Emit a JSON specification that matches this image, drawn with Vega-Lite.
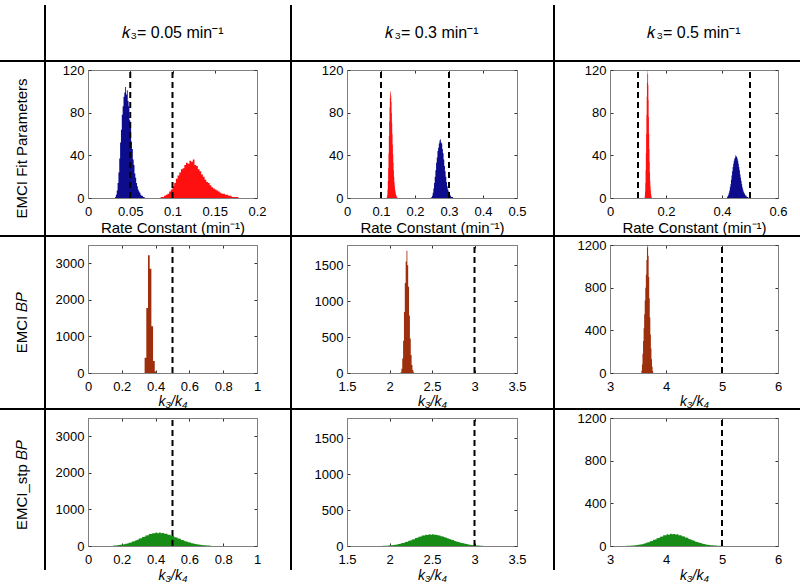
{
"$schema": "https://vega.github.io/schema/vega-lite/v6.json",
"padding": {"top": 5, "left": 0, "right": 0, "bottom": 0},
"background": "white",
"datasets": {
"a1": [
{"s":"k3","x":0.032,"n":1},{"s":"k3","x":0.033,"n":3},{"s":"k3","x":0.034,"n":7},{"s":"k3","x":0.035,"n":14},{"s":"k3","x":0.036,"n":24},{"s":"k3","x":0.037,"n":37},{"s":"k3","x":0.038,"n":52},{"s":"k3","x":0.039,"n":64},{"s":"k3","x":0.040,"n":78},{"s":"k3","x":0.041,"n":86},{"s":"k3","x":0.042,"n":95},{"s":"k3","x":0.043,"n":99},{"s":"k3","x":0.044,"n":104},{"s":"k3","x":0.045,"n":97},{"s":"k3","x":0.046,"n":101},{"s":"k3","x":0.047,"n":91},{"s":"k3","x":0.048,"n":86},{"s":"k3","x":0.049,"n":73},{"s":"k3","x":0.050,"n":66},{"s":"k3","x":0.051,"n":53},{"s":"k3","x":0.052,"n":46},{"s":"k3","x":0.053,"n":36},{"s":"k3","x":0.054,"n":31},{"s":"k3","x":0.055,"n":23},{"s":"k3","x":0.056,"n":19},{"s":"k3","x":0.057,"n":14},{"s":"k3","x":0.058,"n":11},{"s":"k3","x":0.059,"n":8},{"s":"k3","x":0.060,"n":6},{"s":"k3","x":0.061,"n":5},{"s":"k3","x":0.062,"n":3},{"s":"k3","x":0.063,"n":2},{"s":"k3","x":0.064,"n":2},{"s":"k3","x":0.065,"n":1},{"s":"k3","x":0.066,"n":1},{"s":"k3","x":0.067,"n":0},
{"s":"k4","x":0.086,"n":1},{"s":"k4","x":0.088,"n":1},{"s":"k4","x":0.090,"n":2},{"s":"k4","x":0.092,"n":3},{"s":"k4","x":0.094,"n":4},{"s":"k4","x":0.096,"n":6},{"s":"k4","x":0.098,"n":8},{"s":"k4","x":0.100,"n":11},{"s":"k4","x":0.102,"n":14},{"s":"k4","x":0.104,"n":18},{"s":"k4","x":0.106,"n":21},{"s":"k4","x":0.108,"n":24},{"s":"k4","x":0.110,"n":27},{"s":"k4","x":0.112,"n":28},{"s":"k4","x":0.114,"n":31},{"s":"k4","x":0.116,"n":33},{"s":"k4","x":0.118,"n":32},{"s":"k4","x":0.120,"n":35},{"s":"k4","x":0.122,"n":34},{"s":"k4","x":0.124,"n":36},{"s":"k4","x":0.126,"n":31},{"s":"k4","x":0.128,"n":30},{"s":"k4","x":0.130,"n":27},{"s":"k4","x":0.132,"n":25},{"s":"k4","x":0.134,"n":22},{"s":"k4","x":0.136,"n":20},{"s":"k4","x":0.138,"n":17},{"s":"k4","x":0.140,"n":15},{"s":"k4","x":0.142,"n":14},{"s":"k4","x":0.144,"n":12},{"s":"k4","x":0.146,"n":10},{"s":"k4","x":0.148,"n":9},{"s":"k4","x":0.150,"n":8},{"s":"k4","x":0.152,"n":7},{"s":"k4","x":0.154,"n":6},{"s":"k4","x":0.156,"n":5},{"s":"k4","x":0.158,"n":4},{"s":"k4","x":0.160,"n":4},{"s":"k4","x":0.162,"n":3},{"s":"k4","x":0.164,"n":3},{"s":"k4","x":0.166,"n":2},{"s":"k4","x":0.168,"n":2},{"s":"k4","x":0.170,"n":1},{"s":"k4","x":0.172,"n":1},{"s":"k4","x":0.174,"n":1},{"s":"k4","x":0.176,"n":1},{"s":"k4","x":0.178,"n":0}
],
"a2": [
{"s":"k4","x":0.117,"n":1},{"s":"k4","x":0.118,"n":3},{"s":"k4","x":0.119,"n":8},{"s":"k4","x":0.120,"n":16},{"s":"k4","x":0.121,"n":28},{"s":"k4","x":0.122,"n":42},{"s":"k4","x":0.123,"n":58},{"s":"k4","x":0.124,"n":72},{"s":"k4","x":0.125,"n":85},{"s":"k4","x":0.126,"n":94},{"s":"k4","x":0.127,"n":99},{"s":"k4","x":0.128,"n":100},{"s":"k4","x":0.129,"n":96},{"s":"k4","x":0.130,"n":90},{"s":"k4","x":0.131,"n":80},{"s":"k4","x":0.132,"n":70},{"s":"k4","x":0.133,"n":60},{"s":"k4","x":0.134,"n":50},{"s":"k4","x":0.135,"n":41},{"s":"k4","x":0.136,"n":33},{"s":"k4","x":0.137,"n":26},{"s":"k4","x":0.138,"n":20},{"s":"k4","x":0.139,"n":15},{"s":"k4","x":0.140,"n":11},{"s":"k4","x":0.141,"n":8},{"s":"k4","x":0.142,"n":6},{"s":"k4","x":0.143,"n":4},{"s":"k4","x":0.144,"n":3},{"s":"k4","x":0.145,"n":2},{"s":"k4","x":0.146,"n":1},{"s":"k4","x":0.147,"n":1},{"s":"k4","x":0.148,"n":0},
{"s":"k3","x":0.248,"n":1},{"s":"k3","x":0.250,"n":2},{"s":"k3","x":0.252,"n":5},{"s":"k3","x":0.254,"n":9},{"s":"k3","x":0.256,"n":14},{"s":"k3","x":0.258,"n":20},{"s":"k3","x":0.260,"n":26},{"s":"k3","x":0.262,"n":33},{"s":"k3","x":0.264,"n":38},{"s":"k3","x":0.266,"n":44},{"s":"k3","x":0.268,"n":47},{"s":"k3","x":0.270,"n":51},{"s":"k3","x":0.272,"n":54},{"s":"k3","x":0.274,"n":55},{"s":"k3","x":0.276,"n":52},{"s":"k3","x":0.278,"n":51},{"s":"k3","x":0.280,"n":46},{"s":"k3","x":0.282,"n":42},{"s":"k3","x":0.284,"n":36},{"s":"k3","x":0.286,"n":30},{"s":"k3","x":0.288,"n":25},{"s":"k3","x":0.290,"n":20},{"s":"k3","x":0.292,"n":15},{"s":"k3","x":0.294,"n":11},{"s":"k3","x":0.296,"n":8},{"s":"k3","x":0.298,"n":6},{"s":"k3","x":0.300,"n":4},{"s":"k3","x":0.302,"n":3},{"s":"k3","x":0.304,"n":2},{"s":"k3","x":0.306,"n":1},{"s":"k3","x":0.308,"n":1},{"s":"k3","x":0.310,"n":1},{"s":"k3","x":0.312,"n":0}
],
"a3": [
{"s":"k4","x":0.124,"n":2},{"s":"k4","x":0.125,"n":6},{"s":"k4","x":0.126,"n":14},{"s":"k4","x":0.127,"n":26},{"s":"k4","x":0.128,"n":42},{"s":"k4","x":0.129,"n":60},{"s":"k4","x":0.130,"n":78},{"s":"k4","x":0.131,"n":95},{"s":"k4","x":0.132,"n":108},{"s":"k4","x":0.133,"n":117},{"s":"k4","x":0.134,"n":120},{"s":"k4","x":0.135,"n":116},{"s":"k4","x":0.136,"n":106},{"s":"k4","x":0.137,"n":92},{"s":"k4","x":0.138,"n":76},{"s":"k4","x":0.139,"n":60},{"s":"k4","x":0.140,"n":46},{"s":"k4","x":0.141,"n":34},{"s":"k4","x":0.142,"n":24},{"s":"k4","x":0.143,"n":16},{"s":"k4","x":0.144,"n":11},{"s":"k4","x":0.145,"n":7},{"s":"k4","x":0.146,"n":4},{"s":"k4","x":0.147,"n":2},{"s":"k4","x":0.148,"n":1},{"s":"k4","x":0.149,"n":0},
{"s":"k3","x":0.418,"n":1},{"s":"k3","x":0.420,"n":2},{"s":"k3","x":0.422,"n":3},{"s":"k3","x":0.424,"n":5},{"s":"k3","x":0.426,"n":7},{"s":"k3","x":0.428,"n":10},{"s":"k3","x":0.430,"n":13},{"s":"k3","x":0.432,"n":17},{"s":"k3","x":0.434,"n":21},{"s":"k3","x":0.436,"n":25},{"s":"k3","x":0.438,"n":29},{"s":"k3","x":0.440,"n":32},{"s":"k3","x":0.442,"n":35},{"s":"k3","x":0.444,"n":37},{"s":"k3","x":0.446,"n":38},{"s":"k3","x":0.448,"n":40},{"s":"k3","x":0.450,"n":39},{"s":"k3","x":0.452,"n":39},{"s":"k3","x":0.454,"n":37},{"s":"k3","x":0.456,"n":35},{"s":"k3","x":0.458,"n":32},{"s":"k3","x":0.460,"n":29},{"s":"k3","x":0.462,"n":26},{"s":"k3","x":0.464,"n":22},{"s":"k3","x":0.466,"n":19},{"s":"k3","x":0.468,"n":16},{"s":"k3","x":0.470,"n":13},{"s":"k3","x":0.472,"n":10},{"s":"k3","x":0.474,"n":8},{"s":"k3","x":0.476,"n":6},{"s":"k3","x":0.478,"n":5},{"s":"k3","x":0.480,"n":4},{"s":"k3","x":0.482,"n":3},{"s":"k3","x":0.484,"n":2},{"s":"k3","x":0.486,"n":2},{"s":"k3","x":0.488,"n":1},{"s":"k3","x":0.490,"n":1},{"s":"k3","x":0.492,"n":1},{"s":"k3","x":0.494,"n":0}
],
"b1": [
{"x":0.335,"n":420},{"x":0.345,"n":1780},{"x":0.355,"n":3220},{"x":0.365,"n":2850},{"x":0.375,"n":1280},{"x":0.385,"n":330},{"x":0.395,"n":40},{"x":0.405,"n":0}
],
"b2": [
{"x":2.13,"n":10},{"x":2.14,"n":60},{"x":2.15,"n":200},{"x":2.16,"n":450},{"x":2.17,"n":850},{"x":2.18,"n":1250},{"x":2.19,"n":1550},{"x":2.20,"n":1700},{"x":2.21,"n":1500},{"x":2.22,"n":1200},{"x":2.23,"n":800},{"x":2.24,"n":480},{"x":2.25,"n":250},{"x":2.26,"n":110},{"x":2.27,"n":40},{"x":2.28,"n":10},{"x":2.29,"n":0}
],
"b3": [
{"x":3.56,"n":20},{"x":3.57,"n":80},{"x":3.58,"n":180},{"x":3.59,"n":300},{"x":3.60,"n":420},{"x":3.61,"n":550},{"x":3.62,"n":680},{"x":3.63,"n":800},{"x":3.64,"n":920},{"x":3.65,"n":1060},{"x":3.66,"n":1180},{"x":3.67,"n":1200},{"x":3.68,"n":1100},{"x":3.69,"n":900},{"x":3.70,"n":700},{"x":3.71,"n":520},{"x":3.72,"n":360},{"x":3.73,"n":230},{"x":3.74,"n":130},{"x":3.75,"n":60},{"x":3.76,"n":20},{"x":3.77,"n":0}
],
"c1": [
{"x":0.15,"n":12},{"x":0.16,"n":17},{"x":0.17,"n":19},{"x":0.18,"n":27},{"x":0.19,"n":31},{"x":0.20,"n":42},{"x":0.21,"n":48},{"x":0.22,"n":61},{"x":0.23,"n":69},{"x":0.24,"n":88},{"x":0.25,"n":97},{"x":0.26,"n":120},{"x":0.27,"n":131},{"x":0.28,"n":159},{"x":0.29,"n":171},{"x":0.30,"n":202},{"x":0.31,"n":213},{"x":0.32,"n":246},{"x":0.33,"n":255},{"x":0.34,"n":288},{"x":0.35,"n":295},{"x":0.36,"n":325},{"x":0.37,"n":326},{"x":0.38,"n":350},{"x":0.39,"n":346},{"x":0.40,"n":368},{"x":0.41,"n":352},{"x":0.42,"n":366},{"x":0.43,"n":349},{"x":0.44,"n":356},{"x":0.45,"n":332},{"x":0.46,"n":336},{"x":0.47,"n":307},{"x":0.48,"n":306},{"x":0.49,"n":276},{"x":0.50,"n":271},{"x":0.51,"n":241},{"x":0.52,"n":233},{"x":0.53,"n":204},{"x":0.54,"n":195},{"x":0.55,"n":167},{"x":0.56,"n":158},{"x":0.57,"n":133},{"x":0.58,"n":124},{"x":0.59,"n":103},{"x":0.60,"n":94},{"x":0.61,"n":77},{"x":0.62,"n":70},{"x":0.63,"n":56},{"x":0.64,"n":50},{"x":0.65,"n":40},{"x":0.66,"n":35},{"x":0.67,"n":27},{"x":0.68,"n":23},{"x":0.69,"n":18},{"x":0.70,"n":15},{"x":0.71,"n":11},{"x":0.72,"n":9},{"x":0.73,"n":0}
],
"c2": [
{"x":1.92,"n":3},{"x":1.94,"n":4},{"x":1.96,"n":5},{"x":1.98,"n":7},{"x":2.00,"n":9},{"x":2.02,"n":12},{"x":2.04,"n":14},{"x":2.06,"n":19},{"x":2.08,"n":21},{"x":2.10,"n":27},{"x":2.12,"n":31},{"x":2.14,"n":40},{"x":2.16,"n":43},{"x":2.18,"n":54},{"x":2.20,"n":58},{"x":2.22,"n":72},{"x":2.24,"n":76},{"x":2.26,"n":90},{"x":2.28,"n":95},{"x":2.30,"n":110},{"x":2.32,"n":114},{"x":2.34,"n":129},{"x":2.36,"n":131},{"x":2.38,"n":145},{"x":2.40,"n":146},{"x":2.42,"n":157},{"x":2.44,"n":154},{"x":2.46,"n":163},{"x":2.48,"n":158},{"x":2.50,"n":164},{"x":2.52,"n":155},{"x":2.54,"n":157},{"x":2.56,"n":148},{"x":2.58,"n":147},{"x":2.60,"n":136},{"x":2.62,"n":133},{"x":2.64,"n":121},{"x":2.66,"n":116},{"x":2.68,"n":104},{"x":2.70,"n":99},{"x":2.72,"n":86},{"x":2.74,"n":82},{"x":2.76,"n":69},{"x":2.78,"n":64},{"x":2.80,"n":55},{"x":2.82,"n":49},{"x":2.84,"n":41},{"x":2.86,"n":37},{"x":2.88,"n":30},{"x":2.90,"n":27},{"x":2.92,"n":21},{"x":2.94,"n":19},{"x":2.96,"n":14},{"x":2.98,"n":12},{"x":3.00,"n":10},{"x":3.02,"n":8},{"x":3.04,"n":6},{"x":3.06,"n":5},{"x":3.08,"n":4},{"x":3.10,"n":0}
],
"c3": [
{"x":3.29,"n":2},{"x":3.32,"n":2},{"x":3.35,"n":3},{"x":3.38,"n":4},{"x":3.41,"n":5},{"x":3.44,"n":7},{"x":3.47,"n":9},{"x":3.50,"n":11},{"x":3.53,"n":15},{"x":3.56,"n":16},{"x":3.59,"n":22},{"x":3.62,"n":25},{"x":3.65,"n":32},{"x":3.68,"n":35},{"x":3.71,"n":44},{"x":3.74,"n":47},{"x":3.77,"n":58},{"x":3.80,"n":61},{"x":3.83,"n":72},{"x":3.86,"n":76},{"x":3.89,"n":87},{"x":3.92,"n":89},{"x":3.95,"n":100},{"x":3.98,"n":100},{"x":4.01,"n":109},{"x":4.04,"n":106},{"x":4.07,"n":114},{"x":4.10,"n":110},{"x":4.13,"n":113},{"x":4.16,"n":108},{"x":4.19,"n":109},{"x":4.22,"n":101},{"x":4.25,"n":101},{"x":4.28,"n":92},{"x":4.31,"n":90},{"x":4.34,"n":79},{"x":4.37,"n":77},{"x":4.40,"n":66},{"x":4.43,"n":62},{"x":4.46,"n":53},{"x":4.49,"n":49},{"x":4.52,"n":41},{"x":4.55,"n":37},{"x":4.58,"n":30},{"x":4.61,"n":27},{"x":4.64,"n":21},{"x":4.67,"n":19},{"x":4.70,"n":14},{"x":4.73,"n":12},{"x":4.76,"n":10},{"x":4.79,"n":8},{"x":4.82,"n":6},{"x":4.85,"n":5},{"x":4.88,"n":4},{"x":4.91,"n":3},{"x":4.94,"n":2},{"x":4.97,"n":2},{"x":5.00,"n":1},{"x":5.03,"n":0}
]
},
"vconcat": [
{"hconcat": [
  {"width": 44, "height": 55, "data": {"values": []}, "mark": "point"},
  {"width": 2, "height": 55, "view": {"fill": "#000"}, "data": {"values": []}, "mark": "point"},
  {"width": 244, "height": 55, "data": {"values": [{"t": "𝑘₃= 0.05 min⁻¹"}]}, "mark": {"type": "text", "fontSize": 16, "baseline": "middle"},
   "encoding": {"text": {"field": "t"}, "x": {"datum": 0.1, "type": "quantitative", "scale": {"domain": [0, 0.2], "range": [42, 211]}, "axis": null}}},
  {"width": 2, "height": 55, "view": {"fill": "#000"}, "data": {"values": []}, "mark": "point"},
  {"width": 261, "height": 55, "data": {"values": [{"t": "𝑘₃= 0.3 min⁻¹"}]}, "mark": {"type": "text", "fontSize": 16, "baseline": "middle"},
   "encoding": {"text": {"field": "t"}, "x": {"datum": 0.25, "type": "quantitative", "scale": {"domain": [0, 0.5], "range": [55, 225]}, "axis": null}}},
  {"width": 2, "height": 55, "view": {"fill": "#000"}, "data": {"values": []}, "mark": "point"},
  {"width": 245, "height": 55, "data": {"values": [{"t": "𝑘₃= 0.5 min⁻¹"}]}, "mark": {"type": "text", "fontSize": 16, "baseline": "middle"},
   "encoding": {"text": {"field": "t"}, "x": {"datum": 0.3, "type": "quantitative", "scale": {"domain": [0, 0.6], "range": [55, 223]}, "axis": null}}}
], "spacing": 0, "bounds": "flush"},
{"width": 800, "height": 2, "view": {"fill": "#000"}, "data": {"values": []}, "mark": "point"},
{"hconcat": [
  {"width": 44, "height": 173, "data": {"values": [{"t": "EMCI Fit Parameters"}]}, "mark": {"type": "text", "fontSize": 15, "angle": 270, "baseline": "middle"}, "encoding": {"text": {"field": "t"}}},
  {"width": 2, "height": 173, "view": {"fill": "#000"}, "data": {"values": []}, "mark": "point"},
  {"width": 244, "height": 173, "layer": [
    {"data": {"name": "a1"}, "mark": {"type": "area", "interpolate": "step-after"},
     "encoding": {
      "x": {"field": "x", "type": "quantitative", "scale": {"domain": [0, 0.2], "range": [42, 211], "nice": false, "zero": false}, "axis": {"orient": "bottom", "offset": -37, "values": [0, 0.05, 0.1, 0.15, 0.2], "format": "~g", "title": "Rate Constant (min⁻¹)", "titlePadding": 2}},
      "y": {"field": "n", "type": "quantitative", "stack": null, "scale": {"domain": [0, 120], "range": [136, 8], "nice": false}, "axis": {"orient": "left", "offset": -42, "values": [0, 40, 80, 120], "format": "d", "title": null}},
      "color": {"field": "s", "type": "nominal", "scale": {"domain": ["k3", "k4"], "range": ["#0c0c8c", "#ff1010"]}, "legend": null}}},
    {"data": {"values": [{"v": 0.05}, {"v": 0.1}]}, "mark": {"type": "rule", "strokeDash": [6, 4], "strokeWidth": 2, "color": "#000"},
     "encoding": {
      "x": {"field": "v", "type": "quantitative", "axis": {"orient": "top", "offset": -8, "values": [0, 0.05, 0.1, 0.15, 0.2], "labels": false, "title": null}},
      "y": {"datum": 0, "axis": {"orient": "right", "offset": -33, "values": [0, 40, 80, 120], "labels": false, "title": null}},
      "y2": {"datum": 120}}}
  ], "resolve": {"axis": {"x": "independent", "y": "independent"}}},
  {"width": 2, "height": 173, "view": {"fill": "#000"}, "data": {"values": []}, "mark": "point"},
  {"width": 261, "height": 173, "layer": [
    {"data": {"name": "a2"}, "mark": {"type": "area", "interpolate": "step-after"},
     "encoding": {
      "x": {"field": "x", "type": "quantitative", "scale": {"domain": [0, 0.5], "range": [55, 225], "nice": false, "zero": false}, "axis": {"orient": "bottom", "offset": -37, "values": [0, 0.1, 0.2, 0.3, 0.4, 0.5], "format": "~g", "title": "Rate Constant (min⁻¹)", "titlePadding": 2}},
      "y": {"field": "n", "type": "quantitative", "stack": null, "scale": {"domain": [0, 120], "range": [136, 8], "nice": false}, "axis": {"orient": "left", "offset": -55, "values": [0, 40, 80, 120], "format": "d", "title": null}},
      "color": {"field": "s", "type": "nominal", "scale": {"domain": ["k3", "k4"], "range": ["#0c0c8c", "#ff1010"]}, "legend": null}}},
    {"data": {"values": [{"v": 0.1}, {"v": 0.3}]}, "mark": {"type": "rule", "strokeDash": [6, 4], "strokeWidth": 2, "color": "#000"},
     "encoding": {
      "x": {"field": "v", "type": "quantitative", "axis": {"orient": "top", "offset": -8, "values": [0, 0.1, 0.2, 0.3, 0.4, 0.5], "labels": false, "title": null}},
      "y": {"datum": 0, "axis": {"orient": "right", "offset": -36, "values": [0, 40, 80, 120], "labels": false, "title": null}},
      "y2": {"datum": 120}}}
  ], "resolve": {"axis": {"x": "independent", "y": "independent"}}},
  {"width": 2, "height": 173, "view": {"fill": "#000"}, "data": {"values": []}, "mark": "point"},
  {"width": 245, "height": 173, "layer": [
    {"data": {"name": "a3"}, "mark": {"type": "area", "interpolate": "step-after"},
     "encoding": {
      "x": {"field": "x", "type": "quantitative", "scale": {"domain": [0, 0.6], "range": [55, 223], "nice": false, "zero": false}, "axis": {"orient": "bottom", "offset": -37, "values": [0, 0.2, 0.4, 0.6], "format": "~g", "title": "Rate Constant (min⁻¹)", "titlePadding": 2}},
      "y": {"field": "n", "type": "quantitative", "stack": null, "scale": {"domain": [0, 120], "range": [136, 8], "nice": false}, "axis": {"orient": "left", "offset": -55, "values": [0, 40, 80, 120], "format": "d", "title": null}},
      "color": {"field": "s", "type": "nominal", "scale": {"domain": ["k3", "k4"], "range": ["#0c0c8c", "#ff1010"]}, "legend": null}}},
    {"data": {"values": [{"v": 0.1}, {"v": 0.5}]}, "mark": {"type": "rule", "strokeDash": [6, 4], "strokeWidth": 2, "color": "#000"},
     "encoding": {
      "x": {"field": "v", "type": "quantitative", "axis": {"orient": "top", "offset": -8, "values": [0, 0.2, 0.4, 0.6], "labels": false, "title": null}},
      "y": {"datum": 0, "axis": {"orient": "right", "offset": -22, "values": [0, 40, 80, 120], "labels": false, "title": null}},
      "y2": {"datum": 120}}}
  ], "resolve": {"axis": {"x": "independent", "y": "independent"}}}
], "spacing": 0, "bounds": "flush"},
{"width": 800, "height": 2, "view": {"fill": "#000"}, "data": {"values": []}, "mark": "point"},
{"hconcat": [
  {"width": 44, "height": 171, "data": {"values": [{"t": "EMCI 𝐵𝑃"}]}, "mark": {"type": "text", "fontSize": 15, "angle": 270, "baseline": "middle"}, "encoding": {"text": {"field": "t"}}},
  {"width": 2, "height": 171, "view": {"fill": "#000"}, "data": {"values": []}, "mark": "point"},
  {"width": 244, "height": 171, "layer": [
    {"data": {"name": "b1"}, "mark": {"type": "area", "interpolate": "step-after", "color": "#9e2f0c"},
     "encoding": {
      "x": {"field": "x", "type": "quantitative", "scale": {"domain": [0, 1], "range": [42, 211], "nice": false, "zero": false}, "axis": {"orient": "bottom", "offset": -35, "values": [0, 0.2, 0.4, 0.6, 0.8, 1], "format": "~g", "title": "k₃/k₄", "titleFontStyle": "italic", "titleFontSize": 14, "titlePadding": 1}},
      "y": {"field": "n", "type": "quantitative", "stack": null, "scale": {"domain": [0, 3500], "range": [136, 8], "nice": false}, "axis": {"orient": "left", "offset": -42, "values": [0, 1000, 2000, 3000], "format": "d", "title": null}}}},
    {"data": {"values": [{"v": 0.5}]}, "mark": {"type": "rule", "strokeDash": [6, 4], "strokeWidth": 2, "color": "#000"},
     "encoding": {
      "x": {"field": "v", "type": "quantitative", "axis": {"orient": "top", "offset": -8, "values": [0, 0.2, 0.4, 0.6, 0.8, 1], "labels": false, "title": null}},
      "y": {"datum": 0, "axis": {"orient": "right", "offset": -33, "values": [0, 1000, 2000, 3000], "labels": false, "title": null}},
      "y2": {"datum": 3500}}}
  ], "resolve": {"axis": {"x": "independent", "y": "independent"}}},
  {"width": 2, "height": 171, "view": {"fill": "#000"}, "data": {"values": []}, "mark": "point"},
  {"width": 261, "height": 171, "layer": [
    {"data": {"name": "b2"}, "mark": {"type": "area", "interpolate": "step-after", "color": "#9e2f0c"},
     "encoding": {
      "x": {"field": "x", "type": "quantitative", "scale": {"domain": [1.5, 3.5], "range": [55, 225], "nice": false, "zero": false}, "axis": {"orient": "bottom", "offset": -35, "values": [1.5, 2, 2.5, 3, 3.5], "format": "~g", "title": "k₃/k₄", "titleFontStyle": "italic", "titleFontSize": 14, "titlePadding": 1}},
      "y": {"field": "n", "type": "quantitative", "stack": null, "scale": {"domain": [0, 1780], "range": [136, 8], "nice": false}, "axis": {"orient": "left", "offset": -55, "values": [0, 500, 1000, 1500], "format": "d", "title": null}}}},
    {"data": {"values": [{"v": 3}]}, "mark": {"type": "rule", "strokeDash": [6, 4], "strokeWidth": 2, "color": "#000"},
     "encoding": {
      "x": {"field": "v", "type": "quantitative", "axis": {"orient": "top", "offset": -8, "values": [1.5, 2, 2.5, 3, 3.5], "labels": false, "title": null}},
      "y": {"datum": 0, "axis": {"orient": "right", "offset": -36, "values": [0, 500, 1000, 1500], "labels": false, "title": null}},
      "y2": {"datum": 1780}}}
  ], "resolve": {"axis": {"x": "independent", "y": "independent"}}},
  {"width": 2, "height": 171, "view": {"fill": "#000"}, "data": {"values": []}, "mark": "point"},
  {"width": 245, "height": 171, "layer": [
    {"data": {"name": "b3"}, "mark": {"type": "area", "interpolate": "step-after", "color": "#9e2f0c"},
     "encoding": {
      "x": {"field": "x", "type": "quantitative", "scale": {"domain": [3, 6], "range": [55, 223], "nice": false, "zero": false}, "axis": {"orient": "bottom", "offset": -35, "values": [3, 4, 5, 6], "format": "~g", "title": "k₃/k₄", "titleFontStyle": "italic", "titleFontSize": 14, "titlePadding": 1}},
      "y": {"field": "n", "type": "quantitative", "stack": null, "scale": {"domain": [0, 1200], "range": [136, 8], "nice": false}, "axis": {"orient": "left", "offset": -55, "values": [0, 400, 800, 1200], "format": "d", "title": null}}}},
    {"data": {"values": [{"v": 5}]}, "mark": {"type": "rule", "strokeDash": [6, 4], "strokeWidth": 2, "color": "#000"},
     "encoding": {
      "x": {"field": "v", "type": "quantitative", "axis": {"orient": "top", "offset": -8, "values": [3, 4, 5, 6], "labels": false, "title": null}},
      "y": {"datum": 0, "axis": {"orient": "right", "offset": -22, "values": [0, 400, 800, 1200], "labels": false, "title": null}},
      "y2": {"datum": 1200}}}
  ], "resolve": {"axis": {"x": "independent", "y": "independent"}}}
], "spacing": 0, "bounds": "flush"},
{"width": 800, "height": 2, "view": {"fill": "#000"}, "data": {"values": []}, "mark": "point"},
{"hconcat": [
  {"width": 44, "height": 150, "data": {"values": [{"t": "EMCI_stp 𝐵𝑃"}]}, "mark": {"type": "text", "fontSize": 15, "angle": 270, "baseline": "middle"}, "encoding": {"text": {"field": "t"}}},
  {"width": 2, "height": 160, "view": {"fill": "#000"}, "data": {"values": []}, "mark": "point"},
  {"width": 244, "height": 177, "layer": [
    {"data": {"name": "c1"}, "mark": {"type": "area", "interpolate": "step-after", "color": "#168c16"},
     "encoding": {
      "x": {"field": "x", "type": "quantitative", "scale": {"domain": [0, 1], "range": [42, 211], "nice": false, "zero": false}, "axis": {"orient": "bottom", "offset": -41, "values": [0, 0.2, 0.4, 0.6, 0.8, 1], "format": "~g", "title": "k₃/k₄", "titleFontStyle": "italic", "titleFontSize": 14, "titlePadding": 2}},
      "y": {"field": "n", "type": "quantitative", "stack": null, "scale": {"domain": [0, 3500], "range": [136, 8], "nice": false}, "axis": {"orient": "left", "offset": -42, "values": [0, 1000, 2000, 3000], "format": "d", "title": null}}}},
    {"data": {"values": [{"v": 0.5}]}, "mark": {"type": "rule", "strokeDash": [6, 4], "strokeWidth": 2, "color": "#000"},
     "encoding": {
      "x": {"field": "v", "type": "quantitative", "axis": {"orient": "top", "offset": -8, "values": [0, 0.2, 0.4, 0.6, 0.8, 1], "labels": false, "title": null}},
      "y": {"datum": 0, "axis": {"orient": "right", "offset": -33, "values": [0, 1000, 2000, 3000], "labels": false, "title": null}},
      "y2": {"datum": 3500}}}
  ], "resolve": {"axis": {"x": "independent", "y": "independent"}}},
  {"width": 2, "height": 160, "view": {"fill": "#000"}, "data": {"values": []}, "mark": "point"},
  {"width": 261, "height": 177, "layer": [
    {"data": {"name": "c2"}, "mark": {"type": "area", "interpolate": "step-after", "color": "#168c16"},
     "encoding": {
      "x": {"field": "x", "type": "quantitative", "scale": {"domain": [1.5, 3.5], "range": [55, 225], "nice": false, "zero": false}, "axis": {"orient": "bottom", "offset": -41, "values": [1.5, 2, 2.5, 3, 3.5], "format": "~g", "title": "k₃/k₄", "titleFontStyle": "italic", "titleFontSize": 14, "titlePadding": 2}},
      "y": {"field": "n", "type": "quantitative", "stack": null, "scale": {"domain": [0, 1780], "range": [136, 8], "nice": false}, "axis": {"orient": "left", "offset": -55, "values": [0, 500, 1000, 1500], "format": "d", "title": null}}}},
    {"data": {"values": [{"v": 3}]}, "mark": {"type": "rule", "strokeDash": [6, 4], "strokeWidth": 2, "color": "#000"},
     "encoding": {
      "x": {"field": "v", "type": "quantitative", "axis": {"orient": "top", "offset": -8, "values": [1.5, 2, 2.5, 3, 3.5], "labels": false, "title": null}},
      "y": {"datum": 0, "axis": {"orient": "right", "offset": -36, "values": [0, 500, 1000, 1500], "labels": false, "title": null}},
      "y2": {"datum": 1780}}}
  ], "resolve": {"axis": {"x": "independent", "y": "independent"}}},
  {"width": 2, "height": 160, "view": {"fill": "#000"}, "data": {"values": []}, "mark": "point"},
  {"width": 245, "height": 177, "layer": [
    {"data": {"name": "c3"}, "mark": {"type": "area", "interpolate": "step-after", "color": "#168c16"},
     "encoding": {
      "x": {"field": "x", "type": "quantitative", "scale": {"domain": [3, 6], "range": [55, 223], "nice": false, "zero": false}, "axis": {"orient": "bottom", "offset": -41, "values": [3, 4, 5, 6], "format": "~g", "title": "k₃/k₄", "titleFontStyle": "italic", "titleFontSize": 14, "titlePadding": 2}},
      "y": {"field": "n", "type": "quantitative", "stack": null, "scale": {"domain": [0, 1200], "range": [136, 8], "nice": false}, "axis": {"orient": "left", "offset": -55, "values": [0, 400, 800, 1200], "format": "d", "title": null}}}},
    {"data": {"values": [{"v": 5}]}, "mark": {"type": "rule", "strokeDash": [6, 4], "strokeWidth": 2, "color": "#000"},
     "encoding": {
      "x": {"field": "v", "type": "quantitative", "axis": {"orient": "top", "offset": -8, "values": [3, 4, 5, 6], "labels": false, "title": null}},
      "y": {"datum": 0, "axis": {"orient": "right", "offset": -22, "values": [0, 400, 800, 1200], "labels": false, "title": null}},
      "y2": {"datum": 1200}}}
  ], "resolve": {"axis": {"x": "independent", "y": "independent"}}}
], "spacing": 0, "bounds": "flush"}
],
"spacing": 0,
"config": {
 "view": {"stroke": null},
 "concat": {"spacing": 0},
 "font": "Liberation Sans",
 "axis": {"grid": false, "domainColor": "#808080", "domainWidth": 1, "tickColor": "#333333", "tickSize": -3, "tickWidth": 1, "labelPadding": 5, "labelFont": "Liberation Sans", "labelFontSize": 13, "labelColor": "#000000", "titleFont": "Liberation Sans", "titleFontSize": 15, "titleFontWeight": "normal", "titleColor": "#000000", "titlePadding": 1, "labelFlush": false, "labelOverlap": false},
 "axisX": {"labelPadding": 10},
 "axisY": {"labelPadding": 7},
 "text": {"font": "Liberation Sans", "color": "#000000"}
}
}
